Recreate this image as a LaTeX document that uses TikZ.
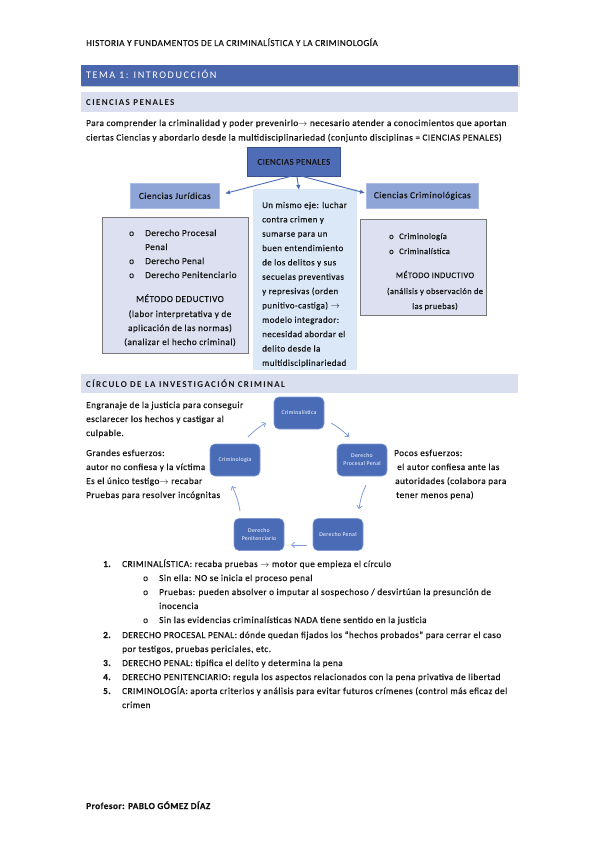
\documentclass[tikz,border=0pt]{standalone}
\usepackage{fontspec}
\setmainfont[LetterSpace=5,FakeBold=0.5]{Carlito}
\newfontfamily\spcfont[LetterSpace=15]{Carlito}
\newfontfamily\plainfont[LetterSpace=5]{Carlito}
\usetikzlibrary{arrows.meta}
\definecolor{barblue}{RGB}{74,103,174}
\definecolor{barlight}{RGB}{217,223,239}
\definecolor{cpfill}{RGB}{79,108,182}
\definecolor{cpborder}{RGB}{55,82,145}
\definecolor{midblue}{RGB}{143,165,216}
\definecolor{midborder}{RGB}{170,188,228}
\definecolor{boxfill}{RGB}{220,224,240}
\definecolor{boxborder}{RGB}{120,120,120}
\definecolor{paleblue}{RGB}{218,232,247}
\definecolor{circfill}{RGB}{74,108,182}
\definecolor{circborder}{RGB}{130,155,210}
\definecolor{arrlight}{RGB}{125,155,215}
\definecolor{arrdark}{RGB}{74,108,182}
\definecolor{txt}{RGB}{20,20,20}
\definecolor{shadowgray}{RGB}{200,200,205}
\newcommand\bodyf{\fontsize{9.2}{11}\selectfont}
\newcommand\smallbodyf{\fontsize{8.4}{10}\selectfont}
\newcommand\rarr{\ensuremath{\rightarrow}}
\begin{document}
\begin{tikzpicture}[x=1pt,y=-1pt,
  t/.style={anchor=base west,inner sep=0,font=\bodyf,text=txt},
  tc/.style={anchor=base,inner sep=0,font=\bodyf,text=txt},
  bar/.style={anchor=north west,minimum width=437,inner sep=0,outer sep=0},
  bartext/.style={anchor=base west,inner sep=0},
  bigbox/.style={draw=boxborder,fill=boxfill,line width=0.8pt,anchor=north west,inner sep=0},
  labbox/.style={fill=midblue,draw=midborder,line width=0.6pt,anchor=north west,inner sep=0},
  circ/.style={fill=circfill,draw=circborder,line width=0.6pt,rounded corners=5pt,minimum width=50,minimum height=32,inner sep=0,align=center,text=white,font=\plainfont\fontsize{5.8}{8}\selectfont},
  carr/.style={draw=arrlight,line width=0.75pt,-{Straight Barb[length=3pt,width=5.5pt]}},
  darr/.style={draw=arrdark,line width=0.9pt,-{Latex[length=5pt,width=4.5pt]}}
]
\useasboundingbox (0,0) rectangle (599,848);
\fill[white] (0,0) rectangle (599,848);

% header
\node[t] (head) at (86,46) {HISTORIA Y FUNDAMENTOS DE LA CRIMINALÍSTICA Y LA CRIMINOLOGÍA};

% bars
\fill[shadowgray] (82,66.5) rectangle (519.5,87.5);
\node[bar,fill=barblue,minimum height=21] (bar1) at (81,65) {};
\node[bartext,font=\spcfont\fontsize{10.2}{12}\selectfont,text=white] (bar1t) at (86,79) {TEMA 1: INTRODUCCIÓN};
\node[bar,fill=barlight,minimum height=20] (bar2) at (81,92) {};
\node[bartext,font=\spcfont\bfseries\fontsize{9}{11}\selectfont,text=txt] (bar2t) at (86,105.5) {CIENCIAS PENALES};

\node[t] (p1) at (86,126) {Para comprender la criminalidad y poder prevenirlo\rarr{} necesario atender a conocimientos que aportan};
\node[t] (p2) at (86,140.5) {ciertas Ciencias y abordarlo desde la multidisciplinariedad (conjunto disciplinas = CIENCIAS PENALES)};

% concept map
\node[fill=cpfill,draw=cpborder,line width=0.8pt,anchor=north west,minimum width=93,minimum height=29,inner sep=0,font=\fontsize{8.8}{10}\selectfont,text=txt] (cp) at (247,147) {CIENCIAS PENALES};
\node[labbox,minimum width=89,minimum height=25,font=\bodyf,text=txt] (jur) at (130,183) {Ciencias Jurídicas};
\node[labbox,minimum width=112,minimum height=25,font=\bodyf,text=txt] (crimlog) at (366,183) {Ciencias Criminológicas};

\node[bigbox,minimum width=146,minimum height=136] (lbox) at (102,217) {};
\node[fill=paleblue,anchor=north west,minimum width=104,minimum height=181,inner sep=0] (mbox) at (253,189) {};
\node[bigbox,minimum width=126,minimum height=96] (rbox) at (360,219) {};

\coordinate (cpl) at (292,176);
\coordinate (cpm) at (297,177);
\coordinate (cpr) at (301,176);
\coordinate (ejur) at (225,193.5);
\coordinate (emid) at (299,190);
\coordinate (ecrim) at (365,193);
\draw[darr] (cpl) -- (ejur);
\draw[darr] (cpm) -- (emid);
\draw[darr] (cpr) -- (ecrim);

% left box content
\node[t] (lb1) at (129,236) {o};
\node[t] (lb1t) at (145,236) {Derecho Procesal};
\node[t] (lb1u) at (145,250) {Penal};
\node[t] (lb2) at (129,264) {o};
\node[t] (lb2t) at (145,264) {Derecho Penal};
\node[t] (lb3) at (129,278) {o};
\node[t] (lb3t) at (145,278) {Derecho Penitenciario};
\node[tc] (lm1) at (180,302) {MÉTODO DEDUCTIVO};
\node[tc] (lm2) at (180,317) {(labor interpretativa y de};
\node[tc] (lm3) at (180,331) {aplicación de las normas)};
\node[tc] (lm4) at (180,345) {(analizar el hecho criminal)};

% middle box content
\foreach \txtline [count=\i] in {Un mismo eje: luchar,contra crimen y,sumarse para un,buen entendimiento,de los delitos y sus,secuelas preventivas,y represivas (orden,punitivo-castiga) \rarr,modelo integrador:,necesidad abordar el,delito desde la,multidisciplinariedad}
  \node[t,font=\fontsize{8.9}{11}\selectfont] (m\i) at (262,{205+3+(\i-1)*14.35}) {\txtline};

% right box content
\node[t,font=\smallbodyf] (rb1) at (389,239) {o};
\node[t,font=\smallbodyf] (rb1t) at (399,239) {Criminología};
\node[t,font=\smallbodyf] (rb2) at (389,254) {o};
\node[t,font=\smallbodyf] (rb2t) at (399,254) {Criminalística};
\node[tc,font=\smallbodyf] (rm1) at (435,278) {MÉTODO INDUCTIVO};
\node[tc,font=\smallbodyf] (rm2) at (435,294) {(análisis y observación de};
\node[tc,font=\smallbodyf] (rm3) at (435,309) {las pruebas)};

% bar 3
\node[bar,fill=barlight,minimum height=19] (bar3) at (81,374) {};
\node[bartext,font=\spcfont\bfseries\fontsize{9}{11}\selectfont,text=txt] (bar3t) at (86,387) {CÍRCULO DE LA INVESTIGACIÓN CRIMINAL};

% circle
\node[circ] (c1) at (299,413) {Criminalística};
\node[circ] (c2) at (362,460) {Derecho\\Procesal Penal};
\node[circ] (c3) at (338,534.5) {Derecho Penal};
\node[circ] (c4) at (259,534.5) {Derecho\\Penitenciario};
\node[circ] (c5) at (235,460) {Criminología};

\coordinate (a1s) at (331,423); \coordinate (a1e) at (349,437);
\coordinate (a2s) at (366,485); \coordinate (a2e) at (359,509);
\coordinate (a3s) at (307,545); \coordinate (a3e) at (291,545);
\coordinate (a4s) at (240,511); \coordinate (a4e) at (232,486);
\coordinate (a5s) at (248,437); \coordinate (a5e) at (266,423);
\draw[carr] (a1s) to[bend left=8] (a1e);
\draw[carr] (a2s) to[bend right=8] (a2e);
\draw[carr] (a3s) -- (a3e);
\draw[carr] (a4s) to[bend right=8] (a4e);
\draw[carr] (a5s) to[bend left=8] (a5e);

% circle side texts
\node[t] (e1) at (86,408) {Engranaje de la justicia para conseguir};
\node[t] (e2) at (86,422) {esclarecer los hechos y castigar al};
\node[t] (e3) at (86,436) {culpable.};
\node[t] (g1) at (86,456) {Grandes esfuerzos:};
\node[t] (g2) at (86,470) {autor no confiesa y la víctima};
\node[t] (g3) at (86,484) {Es el único testigo\rarr{} recabar};
\node[t] (g4) at (86,498) {Pruebas para resolver incógnitas};
\node[t] (q1) at (394,456) {Pocos esfuerzos:};
\node[t] (q2) at (397,470) {el autor confiesa ante las};
\node[t] (q3) at (395,484) {autoridades (colabora para};
\node[t] (q4) at (396,498) {tener menos pena)};

% list
\node[t] (n1) at (103,567) {\textbf{1.}};
\node[t] (n1t) at (122,567) {CRIMINALÍSTICA: recaba pruebas \rarr{} motor que empieza el círculo};
\node[t] (s1) at (143,581) {o};
\node[t] (s1t) at (159,581) {Sin ella: NO se inicia el proceso penal};
\node[t] (s2) at (143,595) {o};
\node[t] (s2t) at (159,595) {Pruebas: pueden absolver o imputar al sospechoso / desvirtúan la presunción de};
\node[t] (s2u) at (159,609) {inocencia};
\node[t] (s3) at (143,623) {o};
\node[t] (s3t) at (159,623) {Sin las evidencias criminalísticas NADA tiene sentido en la justicia};
\node[t] (n2) at (103,638) {\textbf{2.}};
\node[t] (n2t) at (122,638) {DERECHO PROCESAL PENAL: dónde quedan fijados los “hechos probados” para cerrar el caso};
\node[t] (n2u) at (122,652) {por testigos, pruebas periciales, etc.};
\node[t] (n3) at (103,666) {\textbf{3.}};
\node[t] (n3t) at (122,666) {DERECHO PENAL: tipifica el delito y determina la pena};
\node[t] (n4) at (103,680) {\textbf{4.}};
\node[t] (n4t) at (122,680) {DERECHO PENITENCIARIO: regula los aspectos relacionados con la pena privativa de libertad};
\node[t] (n5) at (103,694) {\textbf{5.}};
\node[t] (n5t) at (122,694) {CRIMINOLOGÍA: aporta criterios y análisis para evitar futuros crímenes (control más eficaz del};
\node[t] (n5u) at (122,708) {crimen};

% footer
\node[t,font=\bodyf\bfseries] (foot) at (86,809) {Profesor: PABLO GÓMEZ DÍAZ};
\end{tikzpicture}
\end{document}
